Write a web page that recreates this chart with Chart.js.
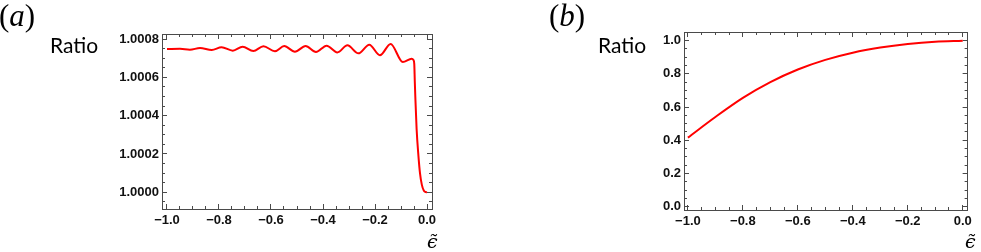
<!DOCTYPE html>
<html lang="en">
<head>
<meta charset="UTF-8">
<title>Ratio vs epsilon</title>
<style>
  body {
    margin: 0;
    background: #fff;
    width: 981px;
    height: 252px;
    position: relative;
    overflow: hidden;
  }
  canvas { position: absolute; top: 0; }
  #chartA { left: 0; }
  #chartB { left: 490px; }
  .tag {
    position: absolute;
    top: 0;
    font-family: 'Liberation Serif', serif;
    font-size: 31px;
    line-height: 1;
    color: #000;
  }
  .ylab {
    position: absolute;
    top: 34px;
    font-family: Lato, sans-serif;
    font-size: 21px;
    line-height: 1;
    color: #000;
  }
  .xlab {
    position: absolute;
    top: 232px;
    font-family: 'DejaVu Serif', serif;
    font-style: italic;
    font-size: 19px;
    line-height: 1;
    color: #000;
  }
</style>
<script src="https://cdn.jsdelivr.net/npm/chart.js"></script>
</head>
<body>

<canvas id="chartA" width="490" height="252"></canvas>
<canvas id="chartB" width="491" height="252"></canvas>

<div class="tag" style="left:-1px">(<i>a</i>)</div>
<div class="tag" style="left:549px">(<i>b</i>)</div>
<div class="ylab" style="left:50px">Ratio</div>
<div class="ylab" style="left:598px">Ratio</div>
<div class="xlab" style="left:427px">&#x03F5;&#x0303;</div>
<div class="xlab" style="left:965px">&#x03F5;&#x0303;</div>

<script>
// panel (a): ratio with small oscillations, drops to 1 near zero
var epsA = [-1.0, -0.95, -0.912, -0.873, -0.828, -0.79, -0.747, -0.709, -0.668, -0.629,
            -0.585, -0.549, -0.508, -0.467, -0.427, -0.386, -0.345, -0.306, -0.264, -0.222,
            -0.181, -0.14, -0.093, -0.059, -0.052, -0.049, -0.047, -0.045, -0.04, -0.033,
            -0.027, -0.02, -0.012, -0.004, 0.0];
var ratioA = [1.000748, 1.000749, 1.000744, 1.000753, 1.000743, 1.000757, 1.000739, 1.00076, 1.000737, 1.000762,
              1.000736, 1.000763, 1.000734, 1.000763, 1.000732, 1.000765, 1.00073, 1.000767, 1.000725, 1.00077,
              1.000715, 1.000774, 1.00068, 1.000697, 1.00069, 1.00067, 1.00058, 1.0005, 1.00033, 1.00019,
              1.0001, 1.00004, 1.000008, 1.000001, 1.0];

// panel (b)
var epsB = [-1.0, -0.9, -0.8, -0.7, -0.6, -0.5, -0.4, -0.3, -0.2, -0.1, 0.0];
var ratioB = [0.416, 0.540, 0.655, 0.750, 0.826, 0.884, 0.927, 0.958, 0.980, 0.994, 1.0];

var frameColor = '#4a4a4a';
var labelFont = { family: 'Liberation Sans', size: 13, weight: 'bold' };

function fmtX(v) {
  if (Math.abs(v) < 1e-9) return '0.0';
  return v.toFixed(1).replace('-', '\u2212');
}

// one axis of the frame; labelled ones carry the numbers, the rest only ticks
function axis(pos, min, max, step, len, opts) {
  var horiz = pos === 'top' || pos === 'bottom';
  var a = {
    type: 'linear',
    position: pos,
    min: min,
    max: max,
    weight: 0,
    ticks: { stepSize: step, includeBounds: false, maxTicksLimit: 1000, display: false, autoSkip: false },
    grid: { drawOnChartArea: false, drawTicks: true, tickLength: -len, tickColor: frameColor, tickWidth: 1 },
    border: { display: false },
    afterFit: function (s) { if (horiz) s.height = 0; else s.width = 0; }
  };
  if (opts) {
    a.weight = 1;
    a.border = { display: true, color: frameColor, width: 1 };
    if (opts.labels) {
      a.ticks.display = true;
      a.ticks.font = labelFont;
      a.ticks.color = '#111';
      a.ticks.padding = opts.padding;
      a.ticks.callback = opts.labels;
      a.afterFit = function (s) { if (horiz) s.height = opts.size; else s.width = opts.size; };
    }
  }
  return a;
}

function makeChart(id, xs, ys, xr, yr, yMajor, yMinor, fmtY, yWidth, pad) {
  var pts = xs.map(function (x, i) { return { x: x, y: ys[i] }; });
  new Chart(document.getElementById(id), {
    type: 'line',
    data: {
      datasets: [{
        data: pts,
        borderColor: '#ff0000',
        borderWidth: 2,
        pointRadius: 0,
        fill: false,
        cubicInterpolationMode: 'monotone'
      }]
    },
    options: {
      responsive: false,
      animation: false,
      events: [],
      layout: { padding: pad },
      plugins: { legend: { display: false }, tooltip: { enabled: false } },
      scales: {
        x: axis('bottom', xr[0], xr[1], 0.2, 5, { labels: fmtX, padding: 9, size: 22 }),
        xMinor: axis('bottom', xr[0], xr[1], 0.05, 3),
        xTop: axis('top', xr[0], xr[1], 0.2, 5, {}),
        xTopMinor: axis('top', xr[0], xr[1], 0.05, 3),
        y: axis('left', yr[0], yr[1], yMajor, 5, { labels: fmtY, padding: 8, size: yWidth }),
        yMinor: axis('left', yr[0], yr[1], yMinor, 3),
        yRight: axis('right', yr[0], yr[1], yMajor, 5, {}),
        yRightMinor: axis('right', yr[0], yr[1], yMinor, 3)
      }
    }
  });
}

makeChart('chartA', epsA, ratioA, [-1.0192, 0.0192], [0.99991284, 1.0008261], 0.0002, 0.00005,
  function (v) { return v.toFixed(4); }, 162, { left: 0, top: 34, right: 58, bottom: 21 });

makeChart('chartB', epsB, ratioB, [-1.0142, 0.0178], [-0.02, 1.052], 0.2, 0.05,
  function (v) { return v.toFixed(1); }, 194, { left: 0, top: 32, right: 7, bottom: 20 });
</script>

</body>
</html>
